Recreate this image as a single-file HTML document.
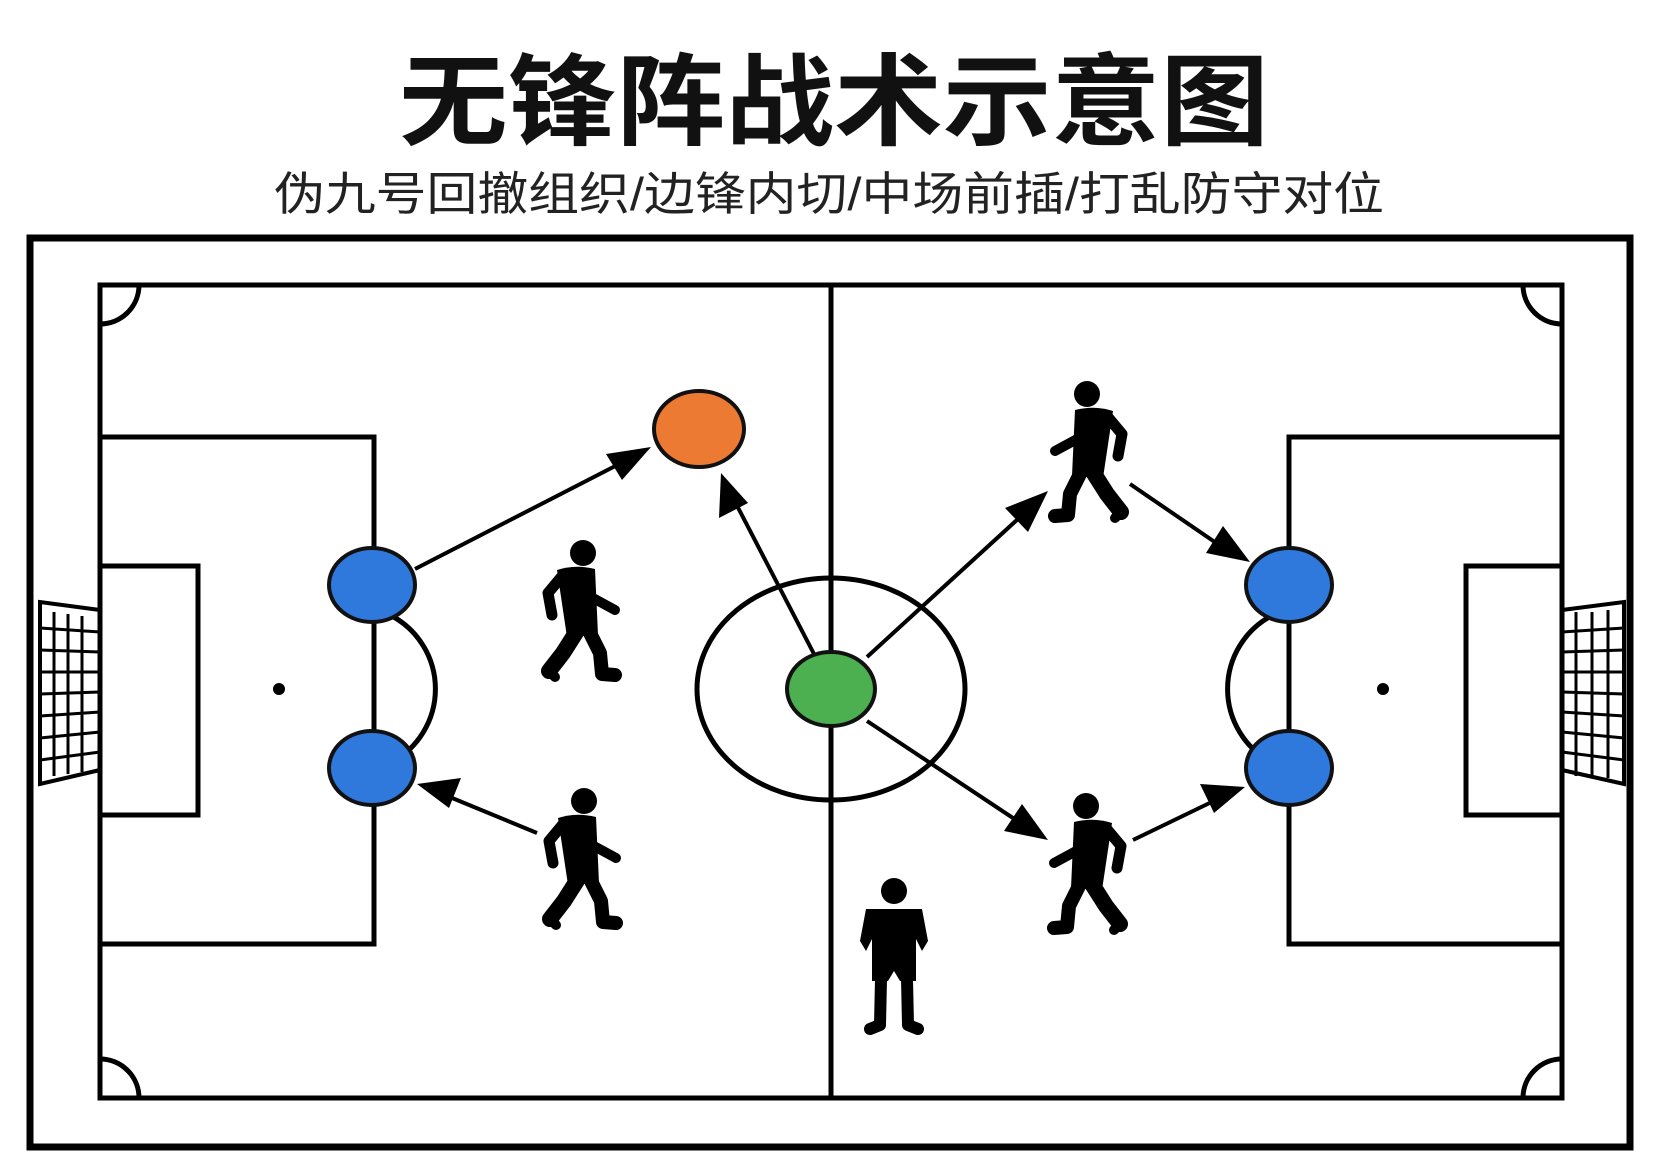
<!DOCTYPE html>
<html><head><meta charset="utf-8"><style>
html,body{margin:0;padding:0;background:#fff;}
svg{display:block;}
</style></head><body>
<svg width="1668" height="1168" viewBox="0 0 1668 1168" xmlns="http://www.w3.org/2000/svg">
<defs>
<g id="walk">
<circle cx="0" cy="0" r="13" fill="#000"/>
<path d="M-26,17 Q-8,11 12,16 L15,82 L-16,84 Z" fill="#000"/>
<polyline points="-20,22 -35,40 -31,62" fill="none" stroke="#000" stroke-width="11" stroke-linecap="round" stroke-linejoin="round"/>
<polyline points="8,44 32,57" fill="none" stroke="#000" stroke-width="10" stroke-linecap="round"/>
<polyline points="-6,78 -20,100 -34,118" fill="none" stroke="#000" stroke-width="16" stroke-linecap="round" stroke-linejoin="round"/>
<polyline points="-34,118 -28,124" fill="none" stroke="#000" stroke-width="10" stroke-linecap="round"/>
<polyline points="6,78 17,100 19,121 32,122" fill="none" stroke="#000" stroke-width="14" stroke-linecap="round" stroke-linejoin="round"/>
</g>
<g id="stand">
<circle cx="0" cy="0" r="13" fill="#000"/>
<path d="M-28,18 L28,18 L34,50 L28,60 L22,48 L22,90 L6,90 L0,80 L-6,90 L-22,90 L-22,48 L-28,60 L-34,50 Z" fill="#000"/>
<polyline points="-13,88 -14,134 -24,138" fill="none" stroke="#000" stroke-width="12" stroke-linecap="round" stroke-linejoin="round"/>
<polyline points="13,88 14,134 24,138" fill="none" stroke="#000" stroke-width="12" stroke-linecap="round" stroke-linejoin="round"/>
</g>
</defs>
<rect width="1668" height="1168" fill="#fff"/>
<text x="834" y="137" text-anchor="middle" font-family="'Liberation Sans','Noto Sans CJK SC',sans-serif" font-weight="bold" font-size="100" textLength="870" lengthAdjust="spacingAndGlyphs" fill="#111">无锋阵战术示意图</text>
<text x="829" y="210" text-anchor="middle" font-family="'Liberation Sans','Noto Sans CJK SC',sans-serif" font-size="46" textLength="1110" lengthAdjust="spacingAndGlyphs" fill="#222">伪九号回撤组织/边锋内切/中场前插/打乱防守对位</text>

<g fill="none" stroke="#000" stroke-width="5">
<rect x="30" y="238" width="1600" height="909" stroke-width="7"/>
<rect x="100" y="285" width="1462" height="813"/>
<line x1="831" y1="285" x2="831" y2="1098"/>
<ellipse cx="831" cy="689" rx="134" ry="111"/>
<rect x="100" y="437" width="274" height="507"/>
<rect x="100" y="566" width="98" height="249"/>
<rect x="1289" y="437" width="273" height="507"/>
<rect x="1466" y="566" width="96" height="249"/>
<path d="M390,615 A83,83 0 0 1 390,763"/>
<path d="M1273,615 A83,83 0 0 0 1273,763"/>
<path d="M100,324 A39,39 0 0 0 139,285"/>
<path d="M1523,285 A39,39 0 0 0 1562,324"/>
<path d="M100,1059 A39,39 0 0 1 139,1098"/>
<path d="M1523,1098 A39,39 0 0 1 1562,1059"/>
</g>
<circle cx="279" cy="689" r="6" fill="#000"/>
<circle cx="1383" cy="689" r="6" fill="#000"/>
<g fill="none" stroke="#000" stroke-width="3">
<path d="M100,610 L40,602 L40,784 L100,770" stroke-width="4"/>
<path d="M54,612 L54,776 M68,614 L68,774 M82,616 L82,772 M40,628 L100,632 M40,650 L100,652 M40,672 L100,672 M40,694 L100,692 M40,716 L100,712 M40,738 L100,732 M40,760 L100,752"/>
<path d="M1562,610 L1624,602 L1624,784 L1562,770" stroke-width="4"/>
<path d="M1576,612 L1576,776 M1592,612 L1592,776 M1608,610 L1608,778 M1562,632 L1624,628 M1562,652 L1624,650 M1562,672 L1624,672 M1562,692 L1624,694 M1562,712 L1624,716 M1562,732 L1624,738 M1562,752 L1624,760"/>
</g>
<g stroke="#000" stroke-width="4" fill="none">
<line x1="415" y1="569" x2="625" y2="461"/>
<line x1="814" y1="654" x2="732" y2="496"/>
<line x1="537" y1="833" x2="440" y2="793"/>
<line x1="867" y1="657" x2="1030" y2="508"/>
<line x1="1130" y1="484" x2="1225" y2="549"/>
<line x1="867" y1="721" x2="1025" y2="826"/>
<line x1="1133" y1="840" x2="1222" y2="797"/>
</g>
<g fill="#000">
<polygon points="651,447 606,454 622,480" />
<polygon points="721,473 719,518 748,503"/>
<polygon points="417,784 449,808 461,778"/>
<polygon points="1048,491 1005,508 1028,532"/>
<polygon points="1250,562 1223,526 1206,553"/>
<polygon points="1048,840 1022,804 1004,831"/>
<polygon points="1245,787 1200,784 1214,813"/>
</g>
<g stroke="#111" stroke-width="4">
<ellipse cx="699" cy="429" rx="45" ry="38" fill="#ed7a32"/>
<ellipse cx="372" cy="585" rx="43" ry="37" fill="#2f78dc"/>
<ellipse cx="372" cy="768" rx="43" ry="37" fill="#2f78dc"/>
<ellipse cx="1289" cy="585" rx="43" ry="37" fill="#2f78dc"/>
<ellipse cx="1289" cy="768" rx="43" ry="37" fill="#2f78dc"/>
<ellipse cx="831" cy="689" rx="44" ry="37" fill="#4caf50"/>
</g>
<use href="#walk" transform="translate(583,553)"/>
<use href="#walk" transform="translate(584,801)"/>
<use href="#walk" transform="translate(1087,394) scale(-1,1)"/>
<use href="#walk" transform="translate(1086,806) scale(-1,1)"/>
<use href="#stand" transform="translate(894,891)"/>
</svg>
</body></html>
